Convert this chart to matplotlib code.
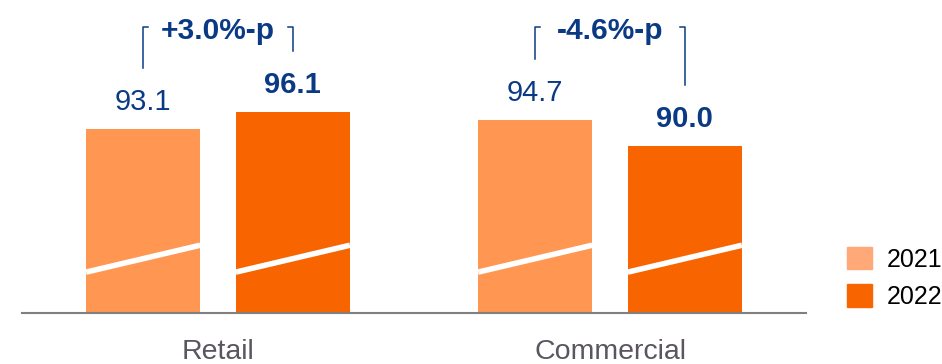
import matplotlib.pyplot as plt
from matplotlib.patches import Patch

categories = ['Retail', 'Commercial']
years = ['2021', '2022']
vals_2021 = [93.1, 94.7]
vals_2022 = [96.1, 90.0]
changes = ['+3.0%-p', '-4.6%-p']

bar_colors = ['#FF9652', '#F76400']
legend_colors = ['#FFA878', '#F76400']
blue = '#0B3A85'
grey_txt = '#5A5560'

plt.rcParams['font.family'] = ['Liberation Sans', 'DejaVu Sans']

fig = plt.figure(figsize=(9.42, 3.64), dpi=100)
ax = fig.add_axes([22 / 942, 51 / 364, 784 / 942, 313 / 364])

off = 0.191
w = 0.291
base = 60.2
ax.set_xlim(-0.5, 1.5)
ax.set_ylim(base, base + 313 / 5.6)

for j, vals in enumerate([vals_2021, vals_2022]):
    sign = -1 if j == 0 else 1
    xs = [i + sign * off for i in range(len(categories))]
    ax.bar(xs, [v - base for v in vals], width=w, bottom=base,
           color=bar_colors[j], zorder=2)
    for x, v in zip(xs, vals):
        # white break stroke across the bar
        ax.plot([x - w / 2, x + w / 2], [67.5, 72.3], color='white', lw=4,
                solid_capstyle='butt', zorder=3)
        ax.annotate(f'{v:.1f}', (x, v), xytext=(0, 13.7),
                    textcoords='offset points', ha='center', va='baseline',
                    fontsize=21, color=blue,
                    fontweight='bold' if j == 1 else 'normal')

# brackets with change labels
top = 111.3
tick = 0.012
for i, (a, b, txt) in enumerate(zip(vals_2021, vals_2022, changes)):
    xl, xr = i - off, i + off
    ax.plot([xl, xl, xl + tick], [a + 10.9, top, top], color=blue, lw=1.1)
    ax.plot([xr, xr, xr - tick], [b + 10.9, top, top], color=blue, lw=1.1)
    ax.text(i, 109.1, txt, ha='center', va='baseline', fontsize=21.5,
            fontweight='bold', color=blue)

for s in ['top', 'right', 'left']:
    ax.spines[s].set_visible(False)
ax.spines['bottom'].set_color('#808080')
ax.spines['bottom'].set_linewidth(1.5)
ax.set_yticks([])
ax.set_xticks(range(len(categories)))
ax.set_xticklabels(categories, fontsize=20.5, color=grey_txt)
ax.tick_params(axis='x', length=0, pad=19)

handles = [Patch(color=c) for c in legend_colors]
fig.legend(handles, years, loc='upper left', bbox_to_anchor=(847 / 942, 1 - 247 / 364),
           frameon=False, fontsize=18, borderpad=0, borderaxespad=0,
           handlelength=1.0, handleheight=1.0, handletextpad=0.6,
           labelspacing=0.5)

fig.savefig('out.png', dpi=100)
